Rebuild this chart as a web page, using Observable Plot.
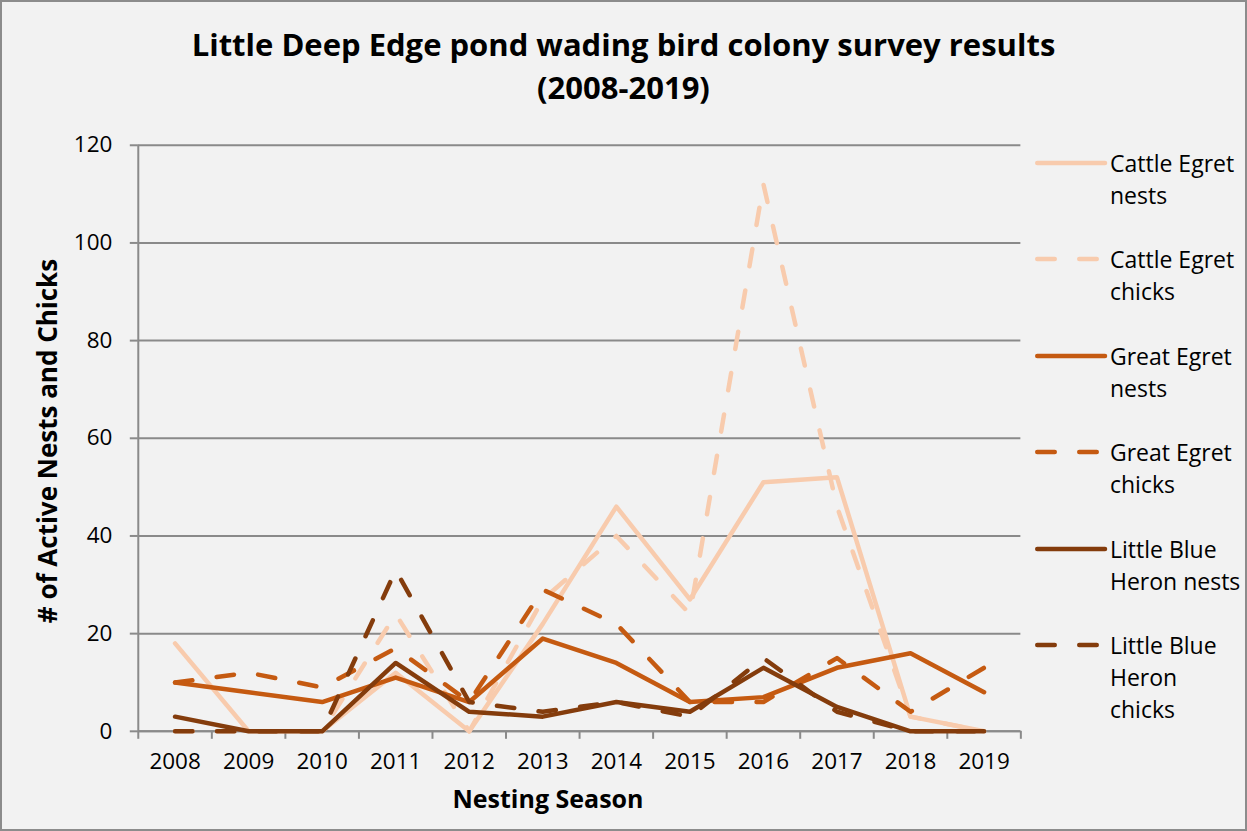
<!DOCTYPE html>
<html>
<head>
<meta charset="utf-8">
<script src="https://cdn.jsdelivr.net/npm/d3@7"></script>
<script src="https://cdn.jsdelivr.net/npm/@observablehq/plot@0.6"></script>
<style>
  html, body { margin: 0; padding: 0; background: #F2F2F2; }
  #wrap { position: relative; width: 1247px; height: 831px; box-sizing: border-box;
          border: 2px solid #8c8c8c; background: #F2F2F2; overflow: hidden;
          font-family: "Open Sans", sans-serif; color: #000; }
  #chart { position: absolute; left: -2px; top: -2px; }
  #title { position: absolute; left: -2px; top: 21px; width: 1247px; text-align: center;
           font-weight: 700; font-size: 31px; line-height: 43px; }
  #ytitle { position: absolute; left: 45px; top: 439px; transform: translate(-50%, -50%) rotate(-90deg);
            font-weight: 700; font-size: 26px; white-space: nowrap; }
  #xtitle { position: absolute; left: 546px; top: 796px; transform: translate(-50%, -50%);
            font-weight: 700; font-size: 25px; line-height: 26px; white-space: nowrap; }
  .leg { position: absolute; left: 1031px; }
  .leg svg { position: absolute; left: 0; top: 0; }
  .leg .lab { position: absolute; left: 77px; top: 0; font-size: 23px; line-height: 32px; white-space: pre; }
</style>
</head>
<body>
<div id="wrap">
  <div id="chart"></div>
  <div id="title">Little Deep Edge pond wading bird colony survey results<br>(2008-2019)</div>
  <div id="ytitle"># of Active Nests and Chicks</div>
  <div id="xtitle">Nesting Season</div>
</div>
<script>
// ---- data ----
const years = [2008, 2009, 2010, 2011, 2012, 2013, 2014, 2015, 2016, 2017, 2018, 2019];
const cattleEgretNests   = [18, 0, 0, 12, 0, 22, 46, 27, 51, 52, 3, 0];
const cattleEgretChicks  = [0, 0, 0, 24, 0, 27, 40, 24, 112, 46, 3, 0];
const greatEgretNests    = [10, 8, 6, 11, 6, 19, 14, 6, 7, 13, 16, 8];
const greatEgretChicks   = [10, 12, 9, 17, 6, 29, 22, 6, 6, 15, 4, 13];
const lbHeronNests       = [3, 0, 0, 14, 4, 3, 6, 4, 13, 5, 0, 0];
const lbHeronChicks      = [0, 0, 0, 33, 6, 4, 6, 3, 15, 4, 0, 0];
const yTicks = [0, 20, 40, 60, 80, 100, 120];
const seriesNames = ["Cattle Egret\nnests", "Cattle Egret\nchicks", "Great Egret\nnests",
                     "Great Egret\nchicks", "Little Blue\nHeron nests", "Little Blue\nHeron\nchicks"];

const colors = ["#F8CBAD", "#F8CBAD", "#C55A11", "#C55A11", "#843C0C", "#843C0C"];
const dashed = [false, true, false, true, false, true];
const seriesValues = [cattleEgretNests, cattleEgretChicks, greatEgretNests,
                      greatEgretChicks, lbHeronNests, lbHeronChicks];
const DASH = "17.5,24.5";
const SW = 4.5;
const GRID = "#8a8a8a";

const boundaries = years.map(y => y - 0.5).concat([years[years.length - 1] + 0.5]);

const lineMarks = seriesValues.map((vals, i) => {
  const rows = years.map((yr, j) => ({year: yr, value: vals[j]}));
  return Plot.line(rows, {
    x: "year", y: "value", stroke: colors[i], strokeWidth: SW,
    strokeLinecap: "round", strokeLinejoin: "round",
    strokeDasharray: dashed[i] ? DASH : null
  });
});

const chart = Plot.plot({
  width: 1247, height: 831,
  marginLeft: 138, marginRight: 225, marginTop: 145, marginBottom: 99,
  style: {background: "transparent", fontFamily: "'Open Sans', sans-serif", fontSize: "22.5px", color: "#000", overflow: "visible"},
  x: {type: "linear", domain: [boundaries[0], boundaries[boundaries.length - 1]]},
  y: {domain: [0, 120]},
  marks: [
    Plot.gridY(yTicks, {stroke: GRID, strokeOpacity: 1, strokeWidth: 2}),
    Plot.axisY(yTicks, {anchor: "left", tickSize: 8, tickPadding: 18, label: null,
                        stroke: GRID, strokeWidth: 2, fill: "#000"}),
    Plot.ruleX([boundaries[0]], {stroke: GRID, strokeWidth: 2}),
    Plot.axisX(boundaries, {anchor: "bottom", tickSize: 8, tickFormat: () => "", label: null,
                            stroke: GRID, strokeWidth: 2}),
    Plot.axisX(years, {anchor: "bottom", tickSize: 0, tickPadding: 22, label: null,
                       tickFormat: d => String(d), fill: "#000"}),
    Plot.ruleY([0], {stroke: GRID, strokeWidth: 2}),
    ...lineMarks
  ]
});
document.getElementById("chart").appendChild(chart);

// ---- legend ----
const wrap = document.getElementById("wrap");
seriesNames.forEach((name, i) => {
  const cy = 163 + i * 96.4;
  const d = document.createElement("div");
  d.className = "leg";
  d.style.top = (cy - 16 - 2) + "px";
  const svg = d3.create("svg").attr("width", 76).attr("height", 32);
  svg.append("line").attr("x1", 4.25).attr("x2", 72).attr("y1", 16).attr("y2", 16)
     .attr("stroke", colors[i]).attr("stroke-width", SW).attr("stroke-linecap", "round")
     .attr("stroke-dasharray", dashed[i] ? DASH : null);
  d.appendChild(svg.node());
  const lab = document.createElement("div");
  lab.className = "lab";
  lab.textContent = name;
  d.appendChild(lab);
  wrap.appendChild(d);
});
</script>
</body>
</html>
